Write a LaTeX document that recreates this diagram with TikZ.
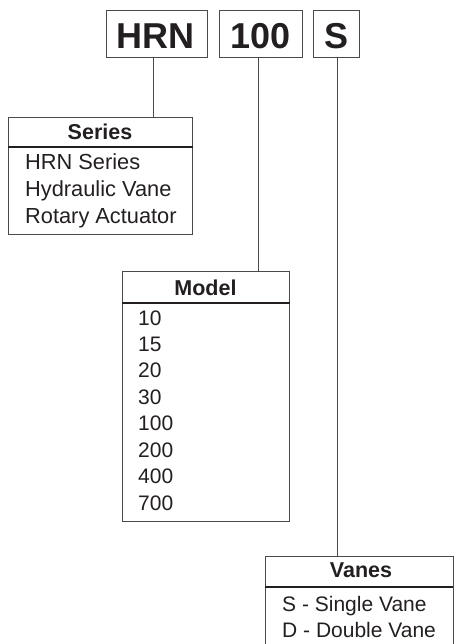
\documentclass[tikz,border=0pt]{standalone}
\usepackage{fontspec}
\setmainfont{Liberation Sans}
\definecolor{txt}{HTML}{231F20}
\definecolor{linec}{HTML}{4A4A4A}
\begin{document}
\begin{tikzpicture}[x=1pt,y=1pt,
  box/.style={draw=linec, line width=0.9pt, inner sep=0pt, anchor=north west},
  codetxt/.style={font=\fontsize{36}{36}\selectfont\bfseries, text=txt, inner sep=0pt, anchor=base},
  headtxt/.style={font=\fontsize{21.5}{21.5}\selectfont\bfseries, text=txt, inner sep=0pt, anchor=base},
  itemtxt/.style={font=\fontsize{21}{21}\selectfont, text=txt, inner sep=0pt, anchor=base west},
  seritem/.style={itemtxt, font=\fontsize{21.8}{21.8}\selectfont},
  sepline/.style={draw=txt, line width=2pt},
  conn/.style={draw=linec, line width=0.9pt}]
\useasboundingbox (0,0) rectangle (453,-644);
% top code boxes
\node[box, minimum width=101pt, minimum height=47pt] (hrn) at (106,-10) {};
\node[box, minimum width=83pt, minimum height=47pt] (hund) at (219,-10) {};
\node[box, minimum width=46pt, minimum height=47pt] (ess) at (313,-10) {};
\node[codetxt] (hrnt) at (155.5,-49) {HRN};
\node[codetxt] (hundt) at (260.5,-49) {100};
\node[codetxt] (esst) at (336,-49) {S};
% Series
\node[box, minimum width=184pt, minimum height=117pt] (series) at (8,-117) {};
\draw[sepline] ([yshift=-30pt]series.north west) -- ([yshift=-30pt]series.north east);
\node[headtxt] (serh) at (100,-140) {Series};
\node[seritem] (ser1) at (25,-170) {HRN Series};
\node[seritem] (ser2) at (25,-196.7) {Hydraulic Vane};
\node[seritem] (ser3) at (25,-223) {Rotary Actuator};
% Model
\node[box, minimum width=167pt, minimum height=250pt] (model) at (122,-271) {};
\draw[sepline] ([yshift=-32pt]model.north west) -- ([yshift=-32pt]model.north east);
\node[headtxt] (modh) at (205.5,-295) {Model};
\foreach \t [count=\i from 0] in {10,15,20,30,100,200,400,700}{
  \node[itemtxt] (mod\i) at (138,{-325-26.43*\i}) {\t};
}
% Vanes
\node[box, minimum width=187.5pt, minimum height=120pt] (vanes) at (265,-556) {};
\draw[sepline] ([yshift=-31pt]vanes.north west) -- ([yshift=-31pt]vanes.north east);
\node[headtxt] (vanh) at (361,-577) {Vanes};
\node[itemtxt] (van1) at (282,-611) {S - Single Vane};
\node[itemtxt] (van2) at (282,-637) {D - Double Vane};
% connectors
\draw[conn] ([xshift=-4pt]hrn.south) -- ([xshift=-4pt]hrn.south |- series.north);
\draw[conn] ([xshift=-2.5pt]hund.south) -- ([xshift=-2.5pt]hund.south |- model.north);
\draw[conn] ([xshift=1pt]ess.south) -- ([xshift=1pt]ess.south |- vanes.north);
\end{tikzpicture}
\end{document}
